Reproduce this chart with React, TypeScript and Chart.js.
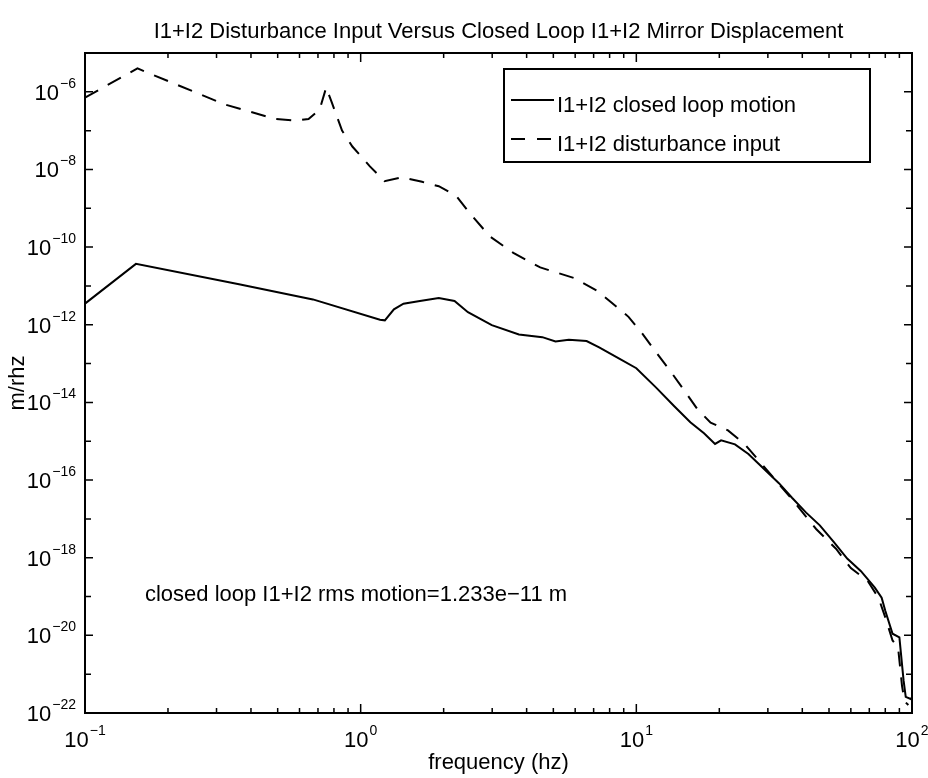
import React, { useEffect, useRef } from "react";
import { Chart, registerables } from "chart.js";

Chart.register(...registerables);

// ---- text ----
const titleText = "I1+I2 Disturbance Input Versus Closed Loop I1+I2 Mirror Displacement";
const xAxisTitle = "frequency (hz)";
const yAxisTitle = "m/rhz";
const rmsNote = "closed loop I1+I2 rms motion=1.233e\u221211 m";
const closedLoopLabel = "I1+I2 closed loop motion";
const disturbanceLabel = "I1+I2 disturbance input";

// ---- axes ----
const xMin = 0.1;
const xMax = 100;
const yMin = 1e-22;
const yMax = 1e-5;
const xLabelExponents = [-1, 0, 1, 2];
const yLabelExponents = [-22, -20, -18, -16, -14, -12, -10, -8, -6];

// ---- closed loop motion (solid) ----
const closedLoopFreq = [
  0.1, 0.153, 0.362, 0.671, 1.175, 1.224, 1.32, 1.43, 1.64, 1.92,
  2.19, 2.45, 2.99, 3.75, 4.56, 5.09, 5.69, 6.6, 7.33, 8.67,
  10, 11.8, 13.7, 15.7, 17.6, 19.3, 20.3, 22.8, 25.5, 28.5,
  32.9, 36.7, 41.3, 46.3, 51.9, 58.2, 65.3, 73.3, 77.6, 80,
  85, 90, 93.2, 94.9, 98.9, 100,
];
const closedLoopMotion = [
  3.5e-12, 3.7e-11, 1.1e-11, 4.5e-12, 1.35e-12, 1.3e-12, 2.5e-12, 3.5e-12, 4.1e-12, 4.9e-12,
  4.1e-12, 2.1e-12, 9.8e-13, 5.6e-13, 4.8e-13, 3.7e-13, 4.1e-13, 3.8e-13, 2.6e-13, 1.35e-13,
  7.6e-14, 2.4e-14, 8.1e-15, 3.1e-15, 1.6e-15, 8.5e-16, 1.05e-15, 8.3e-16, 4.7e-16, 2.2e-16,
  8.3e-17, 3.5e-17, 1.45e-17, 6.8e-18, 2.6e-18, 9.5e-19, 4.5e-19, 1.7e-19, 9.3e-20, 4.3e-20,
  1.1e-20, 8.9e-21, 6.9e-22, 2.6e-22, 2.3e-22, 2.5e-22,
];

// ---- disturbance input (dashed) ----
const disturbanceFreq = [
  0.1, 0.155, 0.322, 0.49, 0.58, 0.647, 0.71, 0.75, 0.785, 0.856,
  0.933, 1.08, 1.22, 1.41, 1.67, 1.92, 2.22, 2.47, 2.94, 3.58,
  4.48, 5.94, 7.24, 8.1, 9.37, 10.5, 11.7, 13.4, 14.8, 16.6,
  18.6, 21.5, 24.7, 28.5, 36.7, 44.9, 53, 60, 69.1, 75.6,
  80, 85, 89, 92, 94, 97,
];
const disturbanceInput = [
  7.1e-7, 4.0e-6, 4.7e-7, 2.0e-7, 1.8e-7, 2.0e-7, 3.5e-7, 1.3e-6, 5.4e-7, 1.0e-7,
  3.9e-8, 1.2e-8, 5.0e-9, 6.3e-9, 4.8e-9, 3.7e-9, 2.1e-9, 7.9e-10, 1.9e-10, 7.1e-11,
  3.0e-11, 1.6e-11, 7.4e-12, 3.8e-12, 1.6e-12, 6.0e-13, 2.1e-13, 5.9e-14, 2.2e-14, 6.9e-15,
  3.0e-15, 1.9e-15, 8.5e-16, 2.6e-16, 3.2e-17, 5.5e-18, 1.7e-18, 5.4e-19, 2.5e-19, 9.3e-20,
  2.9e-20, 7.4e-21, 5.0e-21, 5.0e-22, 2.0e-22, 1.6e-22,
];

// where the rms note sits, in data coordinates
const noteFreq = 0.165;
const noteLevel = 1.23e-19;

const FONT = '"Liberation Sans", Arial, Helvetica, sans-serif';
const DASH = [15, 11];

function supText(exp: number): string {
  return exp < 0 ? "\u2212" + Math.abs(exp) : String(exp);
}

// "10" with a raised exponent; anchor is the centre or the right end
function drawPower(ctx: CanvasRenderingContext2D, exp: number, x: number, baseline: number, align: "center" | "right") {
  const base = "10";
  const sup = supText(exp);
  ctx.font = `22px ${FONT}`;
  const wb = ctx.measureText(base).width;
  ctx.font = `14px ${FONT}`;
  const ws = ctx.measureText(sup).width;
  const total = wb + 1 + ws;
  const left = align === "center" ? x - total / 2 : x - total;
  ctx.textAlign = "left";
  ctx.textBaseline = "alphabetic";
  ctx.font = `22px ${FONT}`;
  ctx.fillText(base, left, baseline);
  ctx.font = `14px ${FONT}`;
  ctx.fillText(sup, left + wb + 1, baseline - 12);
}

const frameAndText = {
  id: "frameAndText",
  beforeDraw(chart: any) {
    const ctx = chart.ctx as CanvasRenderingContext2D;
    ctx.save();
    ctx.fillStyle = "#ffffff";
    ctx.fillRect(0, 0, chart.width, chart.height);
    ctx.restore();
  },
  afterDraw(chart: any) {
    const ctx = chart.ctx as CanvasRenderingContext2D;
    const { left, right, top, bottom } = chart.chartArea;
    const xs = chart.scales.x;
    const ys = chart.scales.y;
    ctx.save();
    ctx.strokeStyle = "#000";
    ctx.fillStyle = "#000";
    ctx.lineWidth = 2;
    ctx.setLineDash([]);

    // axes box
    ctx.strokeRect(left, top, right - left, bottom - top);

    // x ticks (inside, on bottom and top)
    ctx.lineWidth = 1.5;
    ctx.beginPath();
    for (let e = -1; e <= 2; e++) {
      for (let k = 1; k <= 9; k++) {
        const v = k * Math.pow(10, e);
        if (v < xMin || v > xMax) continue;
        const px = xs.getPixelForValue(v);
        const len = k === 1 ? 9 : 5;
        ctx.moveTo(px, bottom);
        ctx.lineTo(px, bottom - len);
        ctx.moveTo(px, top);
        ctx.lineTo(px, top + len);
      }
    }
    // y ticks at every decade (inside, on left and right)
    for (let e = -22; e <= -5; e++) {
      const py = ys.getPixelForValue(Math.pow(10, e));
      const len = e % 2 === 0 ? 8 : 6;
      ctx.moveTo(left, py);
      ctx.lineTo(left + len, py);
      ctx.moveTo(right, py);
      ctx.lineTo(right - len, py);
    }
    ctx.stroke();

    // tick labels
    xLabelExponents.forEach((e) => {
      const px = xs.getPixelForValue(Math.pow(10, e));
      drawPower(ctx, e, px, bottom + 34, "center");
    });
    yLabelExponents.forEach((e) => {
      const py = ys.getPixelForValue(Math.pow(10, e));
      drawPower(ctx, e, left - 9, py + 8, "right");
    });

    // title and axis titles
    const midX = (left + right) / 2;
    const midY = (top + bottom) / 2;
    ctx.font = `22px ${FONT}`;
    ctx.textAlign = "center";
    ctx.textBaseline = "alphabetic";
    ctx.fillText(titleText, midX, top - 15);
    ctx.fillText(xAxisTitle, midX, bottom + 56);
    ctx.save();
    ctx.translate(24, midY);
    ctx.rotate(-Math.PI / 2);
    ctx.fillText(yAxisTitle, 0, 0);
    ctx.restore();

    // rms annotation
    ctx.textAlign = "left";
    ctx.fillText(rmsNote, xs.getPixelForValue(noteFreq), ys.getPixelForValue(noteLevel) + 8);

    // legend
    const lx = 504, ly = 69, lw = 366, lh = 93;
    ctx.lineWidth = 2;
    ctx.fillStyle = "#fff";
    ctx.fillRect(lx, ly, lw, lh);
    ctx.strokeRect(lx, ly, lw, lh);
    ctx.fillStyle = "#000";
    const rows = [
      { label: closedLoopLabel, dash: [] as number[], y: ly + 31 },
      { label: disturbanceLabel, dash: [14, 12], y: ly + 70 },
    ];
    rows.forEach((r) => {
      ctx.setLineDash(r.dash);
      ctx.lineWidth = 2;
      ctx.beginPath();
      ctx.moveTo(lx + 7, r.y);
      ctx.lineTo(lx + 50, r.y);
      ctx.stroke();
      ctx.setLineDash([]);
      ctx.fillText(r.label, lx + 53, r.y + 12);
    });
    ctx.restore();
  },
};

export default function App() {
  const canvasRef = useRef<HTMLCanvasElement | null>(null);

  useEffect(() => {
    const canvas = canvasRef.current;
    if (!canvas) return;
    const chart = new Chart(canvas, {
      type: "line",
      data: {
        datasets: [
          {
            label: closedLoopLabel,
            data: closedLoopFreq.map((f, i) => ({ x: f, y: closedLoopMotion[i] })),
            borderColor: "#000",
            borderWidth: 2,
            pointRadius: 0,
            tension: 0,
            fill: false,
          },
          {
            label: disturbanceLabel,
            data: disturbanceFreq.map((f, i) => ({ x: f, y: disturbanceInput[i] })),
            borderColor: "#000",
            borderWidth: 2,
            borderDash: DASH,
            pointRadius: 0,
            tension: 0,
            fill: false,
          },
        ],
      },
      options: {
        animation: false,
        responsive: false,
        devicePixelRatio: 1,
        parsing: true,
        layout: { padding: { left: 85, top: 53, right: 16, bottom: 65 } },
        scales: {
          x: { type: "logarithmic", min: xMin, max: xMax, display: false },
          y: { type: "logarithmic", min: yMin, max: yMax, display: false },
        },
        plugins: {
          legend: { display: false },
          title: { display: false },
          tooltip: { enabled: false },
        },
        events: [],
      },
      plugins: [frameAndText],
    });
    return () => chart.destroy();
  }, []);

  return (
    <div style={{ position: "absolute", left: 0, top: 0, width: 928, height: 778, background: "#fff" }}>
      <canvas ref={canvasRef} width={928} height={778} style={{ display: "block" }} />
    </div>
  );
}
